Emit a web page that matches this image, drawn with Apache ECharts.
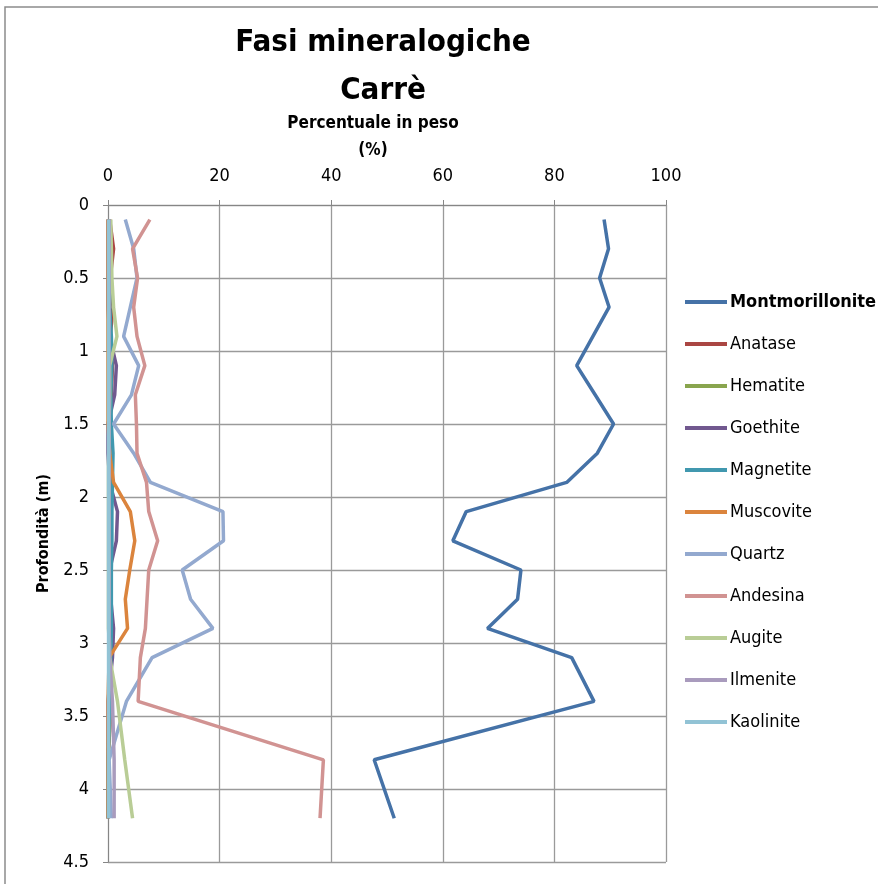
<!DOCTYPE html>
<html><head><meta charset="utf-8">
<script src="https://cdn.jsdelivr.net/npm/echarts@6/dist/echarts.min.js"></script>
<style>html,body{margin:0;padding:0;background:#fff}#c{width:878px;height:884px}</style>
</head><body><div id="c"></div>
<script>
const depths = [0.1,0.3,0.5,0.7,0.9,1.1,1.3,1.5,1.7,1.9,2.1,2.3,2.5,2.7,2.9,3.1,3.4,3.8,4.2];
const montmorillonite = [88.9,89.7,88.1,89.8,86.9,84.0,87.3,90.6,87.7,82.2,64.2,61.8,74.0,73.4,68.0,83.1,87.1,47.7,51.3];
const anatase   = [0.3,1.0,0.4,0.9,0.4,0.8,0.6,0.3,0.3,0.2,0.6,0.5,0.3,0.3,0.3,0.5,0.6,0,0];
const hematite  = [0.1,0.1,0.1,0.1,0.1,0.1,0.1,0.1,0.1,0.1,0.1,0.1,0.1,0.1,0.1,0.3,0.5,0,0];
const goethite  = [0,0,0,0,0.3,1.5,1.2,0,0,0.3,1.7,1.5,0.3,0.5,1.0,0.8,0,0,0];
const magnetite = [0.2,0.4,0.5,0.3,0.6,0.7,0.5,0.6,0.9,0.8,0.7,0.7,0.6,0.6,0.6,0.5,0.3,0,0];
const muscovite = [0,0,0,0,0,0,0,0,0.3,1.0,4.0,4.8,3.9,3.1,3.5,0.2,0,0,0];
const quartz    = [3.1,4.6,5.2,4.0,2.8,5.5,4.2,1.0,4.6,7.6,20.6,20.7,13.3,14.8,18.8,7.9,3.3,0.2,0.6];
const andesina  = [7.5,4.4,5.3,4.6,5.2,6.6,4.9,5.1,5.2,6.9,7.3,8.9,7.3,7.0,6.7,5.8,5.4,38.6,38.0];
const augite    = [0.5,0.6,0.7,1.0,1.6,0.3,0.3,0.2,0.2,0.2,0.2,0.2,0.2,0.2,0.2,0.3,1.7,3.0,4.4];
const ilmenite  = [0.2,0.2,0.2,0.2,0.2,0.2,0.2,0.2,0.2,0.2,0.2,0.2,0.2,0.2,0.2,0.3,0.8,1.1,1.1];
const kaolinite = [0.1,0.1,0.1,0.1,0.1,0.1,0.1,0.1,0.1,0.1,0.1,0.1,0.1,0.1,0.1,0.1,0.1,0.1,0.1];
const seriesNames = ['Montmorillonite','Anatase','Hematite','Goethite','Magnetite','Muscovite','Quartz','Andesina','Augite','Ilmenite','Kaolinite'];
const seriesValues = [montmorillonite,anatase,hematite,goethite,magnetite,muscovite,quartz,andesina,augite,ilmenite,kaolinite];
const colors = ['#4572A7','#AA4643','#89A54E','#71588F','#4198AF','#DB843D','#93A9CF','#D19392','#B9CD96','#A99BBD','#92C3D5'];
const xTicks = [0,20,40,60,80,100];
const yTicks = [0,0.5,1,1.5,2,2.5,3,3.5,4,4.5];

const FONT = "'Liberation Sans Narrow','DejaVu Sans Condensed','Open Sans',sans-serif";
const chart = echarts.init(document.getElementById('c'));
chart.setOption({
  animation:false,
  color: colors,
  graphic:[{type:'rect',shape:{x:5,y:7,width:900,height:900},style:{fill:'none',stroke:'#8c8c8c',lineWidth:1.5},silent:true}],
  title:[
    {text:'Fasi mineralogiche',left:378,top:22,textAlign:'center',textStyle:{fontFamily:FONT,fontSize:31,fontWeight:'bold',color:'#000'}},
    {text:'Carrè',left:378,top:70,textAlign:'center',textStyle:{fontFamily:FONT,fontSize:31,fontWeight:'bold',color:'#000'}},
    {text:'Percentuale in peso',left:368,top:110,textAlign:'center',textStyle:{fontFamily:FONT,fontSize:17,fontWeight:'bold',color:'#000'}},
    {text:'(%)',left:368,top:137,textAlign:'center',textStyle:{fontFamily:FONT,fontSize:17,fontWeight:'bold',color:'#000'}}
  ],
  legend:{
    orient:'vertical', left:680, top:288, itemWidth:42, itemHeight:4, itemGap:24,
    icon:'rect',
    textStyle:{fontFamily:FONT,fontSize:18,color:'#000',padding:[0,0,0,-2]},
    data: seriesNames.map((n,i)=> i===0 ? {name:n,textStyle:{fontWeight:'bold'}} : {name:n})
  },
  grid:{left:108,right:212,top:205,bottom:22},
  xAxis:{type:'value',position:'top',min:xTicks[0],max:xTicks[xTicks.length-1],interval:20,
    axisLine:{show:true,lineStyle:{color:'#868686'}},
    axisTick:{show:true,length:5,lineStyle:{color:'#868686'}},
    axisLabel:{fontFamily:FONT,fontSize:18,color:'#000',margin:20},
    splitLine:{show:true,lineStyle:{color:'#9a9a9a',width:1.3}}},
  yAxis:{type:'value',inverse:true,min:yTicks[0],max:yTicks[yTicks.length-1],interval:0.5,
    name:'Profondità (m)',nameLocation:'middle',nameGap:56,nameRotate:90,
    nameTextStyle:{fontFamily:FONT,fontSize:16,fontWeight:'bold',color:'#000'},
    axisLine:{show:true,lineStyle:{color:'#868686'}},
    axisTick:{show:true,length:5,lineStyle:{color:'#868686'}},
    axisLabel:{fontFamily:FONT,fontSize:18,color:'#000',margin:19,formatter:v=>String(v)},
    splitLine:{show:true,lineStyle:{color:'#9a9a9a',width:1.3}}},
  series: seriesNames.map((n,i)=>({
    name:n,type:'line',showSymbol:false,symbol:'none',
    lineStyle:{width:3.5,color:colors[i]},itemStyle:{color:colors[i]},
    data: depths.map((d,j)=>[seriesValues[i][j], d])
  }))
});
</script></body></html>
